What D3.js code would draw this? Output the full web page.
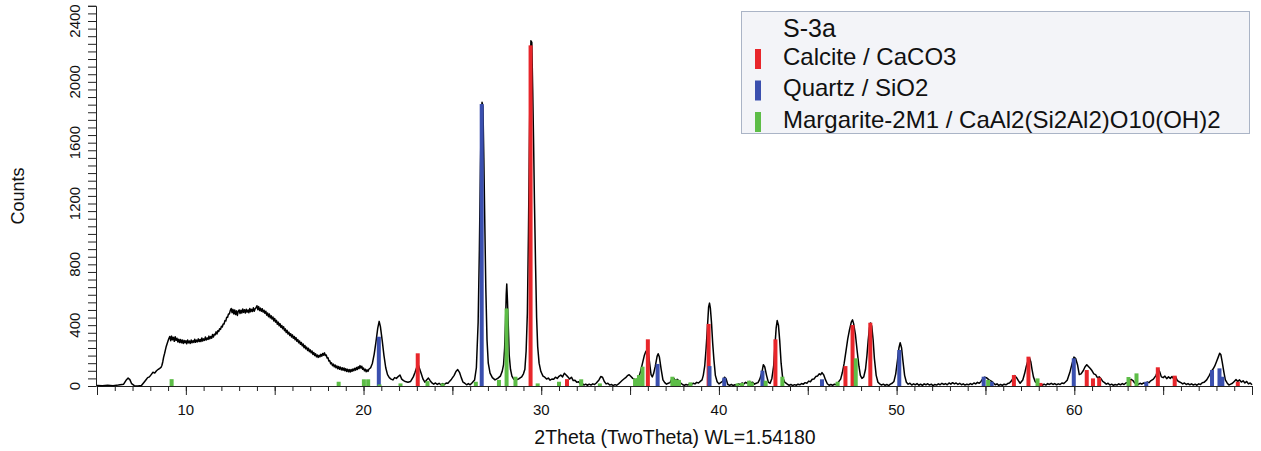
<!DOCTYPE html>
<html>
<head>
<meta charset="utf-8">
<script src="https://cdn.jsdelivr.net/npm/d3@7"></script>
<style>
  html, body { margin: 0; padding: 0; background: #fff; }
  text { font-family: "Liberation Sans", Arial, sans-serif; }
</style>
</head>
<body>
<svg id="chart"></svg>
<script>
// measured scan, [2theta, counts]
const scan = [
  [5.0,3],[5.3,2],[5.6,5],[5.9,2],[6.2,6],[6.5,12],[6.65,40],[6.75,52],[6.85,42],[6.95,15],[7.1,2],[7.3,0],[7.5,3],
  [7.65,25],[7.75,40],[7.85,55],[7.95,60],[8.05,75],[8.15,90],[8.25,85],[8.35,100],[8.45,110],[8.55,118],
  [8.60,122],[8.65,135],[8.70,158],[8.75,190],[8.80,212],[8.85,238],[8.90,262],[8.95,280],[9.00,298],[9.05,314],
  [9.10,326],[9.15,298],[9.20,328],[9.25,304],[9.30,320],[9.35,294],[9.40,324],[9.45,300],[9.50,314],[9.55,290],
  [9.60,308],[9.65,286],[9.70,306],[9.75,284],[9.80,302],[9.85,280],[9.90,300],[9.95,284],[10.00,298],[10.05,278],
  [10.10,302],[10.15,284],[10.20,296],[10.25,280],[10.30,302],[10.35,284],[10.40,298],[10.45,286],[10.50,308],
  [10.55,288],[10.60,302],[10.65,290],[10.70,310],[10.75,292],[10.80,306],[10.85,292],[10.90,316],[10.95,296],
  [11.00,310],[11.05,300],[11.10,322],[11.15,302],[11.20,316],[11.25,306],[11.30,328],[11.35,310],[11.40,326],
  [11.45,314],[11.50,338],[11.55,322],[11.60,340],[11.65,336],[11.70,356],[11.75,342],[11.80,364],[11.85,358],
  [11.90,376],[11.95,372],[12.00,392],[12.05,388],[12.10,408],[12.15,408],[12.20,430],[12.25,428],[12.30,452],
  [12.35,452],[12.40,474],[12.45,474],[12.50,496],[12.55,510],[12.60,482],[12.65,504],[12.70,474],[12.75,500],
  [12.80,470],[12.85,494],[12.90,464],[12.95,492],[13.00,500],[13.05,476],[13.10,498],[13.15,480],[13.20,506],
  [13.25,484],[13.30,502],[13.35,480],[13.40,504],[13.45,486],[13.50,500],[13.55,482],[13.60,510],[13.65,488],
  [13.70,504],[13.75,490],[13.80,514],[13.85,492],[13.90,508],[13.95,514],[14.00,528],[14.05,502],[14.10,522],
  [14.15,496],[14.20,512],[14.25,492],[14.30,508],[14.35,486],[14.40,498],[14.45,478],[14.50,492],[14.55,466],
  [14.60,480],[14.65,456],[14.70,474],[14.75,448],[14.80,462],[14.85,440],[14.90,454],[14.95,428],[15.00,444],
  [15.05,420],[15.10,432],[15.15,406],[15.20,420],[15.25,396],[15.30,410],[15.35,386],[15.40,398],[15.45,376],
  [15.50,390],[15.55,364],[15.60,376],[15.65,352],[15.70,366],[15.75,342],[15.80,354],[15.85,332],[15.90,344],
  [15.95,322],[16.00,336],[16.05,314],[16.10,326],[16.15,304],[16.20,318],[16.25,294],[16.30,306],[16.35,284],
  [16.40,296],[16.45,274],[16.50,286],[16.55,264],[16.60,276],[16.65,252],[16.70,266],[16.75,244],[16.80,256],
  [16.85,234],[16.90,248],[16.95,226],[17.00,238],[17.05,218],[17.10,230],[17.15,208],[17.20,220],[17.25,200],
  [17.30,212],[17.35,192],[17.40,204],[17.45,188],[17.50,202],[17.55,192],[17.60,208],[17.65,196],[17.70,214],
  [17.75,202],[17.80,218],[17.85,200],[17.90,204],[17.95,184],[18.00,186],[18.05,164],[18.10,166],[18.15,146],
  [18.20,152],[18.25,134],[18.30,144],[18.35,126],[18.40,138],[18.45,120],[18.50,132],[18.55,114],[18.60,128],
  [18.65,110],[18.70,124],[18.75,106],[18.80,120],[18.85,104],[18.90,118],[18.95,100],[19.00,114],[19.05,96],
  [19.10,110],[19.15,94],[19.20,108],[19.25,92],[19.30,108],[19.35,96],[19.40,112],[19.45,100],[19.50,116],
  [19.55,104],[19.60,122],[19.65,108],[19.70,126],[19.75,114],[19.80,134],[19.85,118],[19.90,130],[19.95,110],
  [20.00,118],[20.05,100],[20.10,110],[20.15,94],[20.20,106],[20.25,96],[20.30,110],
  [20.4,120],[20.5,150],[20.6,210],[20.7,290],[20.8,380],[20.88,425],[20.95,390],[21.05,300],[21.15,200],
  [21.25,120],[21.35,75],[21.45,55],[21.55,45],[21.65,40],[21.75,55],[21.85,50],[21.95,62],[22.05,72],[22.15,45],[22.25,35],
  [22.35,30],[22.5,25],[22.65,30],[22.8,60],[22.9,90],[23.0,125],[23.08,140],[23.15,115],[23.25,80],[23.35,45],[23.45,25],
  [23.55,40],[23.65,52],[23.75,35],[23.85,20],[23.95,12],[24.05,20],[24.15,10],[24.25,18],[24.35,8],[24.45,16],[24.55,10],
  [24.65,20],[24.75,18],[24.85,32],[24.95,45],[25.1,70],[25.2,95],
  [25.3,108],[25.4,90],[25.5,55],[25.6,25],[25.7,18],[25.8,8],[25.9,16],[26.0,8],[26.1,20],[26.25,40],[26.35,120],[26.45,420],[26.52,900],
  [26.58,1450],[26.63,1800],[26.67,1865],[26.72,1840],[26.77,1500],[26.82,1100],[26.88,650],[26.95,300],[27.02,150],[27.12,85],
  [27.25,55],[27.4,40],[27.55,50],[27.7,65],[27.8,95],[27.88,140],[27.94,250],[27.99,420],[28.03,600],[28.06,670],[28.1,560],
  [28.15,380],[28.2,200],[28.27,110],[28.35,65],[28.45,45],[28.6,40],[28.75,48],[28.9,60],[29.0,80],[29.08,110],[29.15,230],
  [29.22,480],[29.28,1000],[29.33,1550],[29.38,2050],[29.42,2270],[29.47,2260],[29.52,1950],[29.57,1600],[29.62,1200],
  [29.68,800],[29.74,450],[29.8,260],[29.88,150],[29.98,95],[30.1,65],[30.2,58],[30.3,46],[30.4,52],[30.5,38],[30.6,46],
  [30.7,44],[30.8,58],[30.9,50],[31.0,64],[31.1,72],[31.2,60],[31.3,84],[31.4,72],[31.5,60],[31.6,46],[31.7,58],[31.8,36],
  [31.9,38],[32.0,24],[32.1,28],[32.2,14],[32.3,18],[32.4,6],[32.5,12],[32.6,5],[32.7,12],[32.8,6],[32.9,14],[33.0,10],
  [33.1,20],[33.25,40],[33.35,62],[33.45,58],[33.55,30],[33.65,14],[33.75,18],[33.85,6],[33.95,10],[34.05,3],[34.15,9],
  [34.25,5],[34.35,14],[34.45,25],[34.55,36],[34.65,46],[34.75,55],[34.85,68],[34.95,74],[35.05,62],[35.15,50],[35.25,44],
  [35.35,40],[35.5,60],[35.6,100],[35.7,150],
  [35.8,200],[35.88,225],[35.95,235],[36.02,225],[36.1,150],[36.18,75],[36.25,60],[36.32,80],[36.42,130],[36.52,195],
  [36.58,212],[36.65,190],[36.75,110],[36.85,40],[36.95,22],[37.05,12],[37.15,18],[37.25,22],[37.35,45],[37.45,52],[37.55,36],
  [37.65,44],[37.75,34],[37.85,20],[37.95,10],[38.05,4],[38.15,10],[38.25,6],[38.35,14],[38.45,10],[38.55,18],[38.65,14],
  [38.75,24],[38.85,20],[38.95,30],[39.05,40],[39.12,70],[39.2,130],[39.28,250],[39.35,380],
  [39.42,520],[39.47,545],[39.52,510],[39.58,420],[39.65,280],[39.72,170],[39.8,70],[39.9,28],[40.0,14],[40.1,22],[40.2,30],
  [40.32,58],[40.4,48],[40.5,10],[40.6,4],[40.7,10],[40.8,3],[40.9,8],[41.0,4],[41.1,14],[41.2,10],[41.3,20],[41.4,14],
  [41.5,24],[41.6,18],[41.7,30],[41.8,22],[41.9,24],[42.0,12],[42.1,18],[42.2,22],[42.3,45],
  [42.42,90],[42.5,140],[42.58,125],[42.68,70],[42.78,25],[42.88,18],[42.98,50],[43.08,130],[43.15,260],[43.22,380],[43.28,430],
  [43.35,400],[43.42,300],[43.5,150],[43.58,60],[43.7,25],[43.85,12],[43.95,4],[44.05,10],[44.15,3],[44.25,9],[44.35,5],
  [44.45,12],[44.55,8],[44.65,16],[44.75,12],[44.85,22],[44.95,18],[45.05,32],[45.15,28],[45.25,44],[45.35,46],[45.45,62],
  [45.55,66],[45.65,80],[45.72,74],[45.8,88],[45.9,72],[46.0,40],[46.1,15],[46.2,5],[46.3,10],[46.4,4],[46.5,12],[46.6,10],
  [46.7,22],[46.85,45],
  [46.95,90],[47.05,150],[47.15,230],[47.25,310],[47.35,370],[47.45,420],[47.52,435],[47.58,410],[47.68,340],[47.78,230],
  [47.88,130],[47.96,70],[48.05,50],[48.15,60],[48.25,110],[48.33,200],[48.4,300],[48.47,380],[48.53,415],[48.6,395],
  [48.68,300],[48.75,180],[48.85,70],[48.95,25],[49.05,14],[49.15,6],[49.25,12],[49.35,4],[49.45,10],[49.55,3],[49.65,12],
  [49.75,18],[49.85,30],[49.95,80],[50.05,170],
  [50.13,250],[50.2,285],[50.28,250],[50.36,160],[50.45,70],[50.55,25],[50.65,12],[50.75,18],[50.85,6],[50.95,14],[51.05,8],
  [51.15,16],[51.25,5],[51.35,12],[51.45,4],[51.55,14],[51.65,8],[51.75,15],[51.85,6],[51.95,12],[52.05,3],[52.15,10],
  [52.25,6],[52.35,14],[52.45,8],[52.55,18],[52.65,10],[52.75,16],[52.85,8],[52.95,20],[53.05,12],[53.15,22],[53.25,14],
  [53.35,20],[53.45,10],[53.55,18],[53.65,8],[53.75,14],[53.85,6],[53.95,12],[54.05,8],[54.15,16],[54.25,10],[54.35,20],
  [54.45,14],[54.55,24],[54.65,18],[54.75,30],[54.85,48],[54.95,58],
  [55.05,55],[55.2,40],[55.35,30],[55.45,20],[55.55,8],[55.65,14],[55.75,4],[55.85,10],[55.95,4],[56.05,12],[56.15,8],
  [56.25,16],[56.35,20],[56.45,32],[56.55,50],[56.65,68],[56.75,55],[56.85,35],
  [56.95,18],[57.1,40],[57.2,80],[57.3,130],[57.4,170],[57.48,185],[57.55,160],[57.62,110],[57.7,60],[57.8,28],[57.9,18],
  [58.0,8],[58.1,14],[58.2,5],[58.3,12],[58.4,6],[58.5,16],[58.6,10],[58.7,18],[58.8,10],[58.9,16],[59.0,8],[59.1,14],
  [59.2,10],[59.3,20],[59.4,16],[59.5,26],[59.6,38],[59.75,90],[59.88,150],[59.98,190],[60.08,180],
  [60.18,140],[60.28,75],[60.38,80],[60.5,100],[60.6,125],[60.7,140],[60.78,130],[60.9,115],[61.0,100],[61.1,80],[61.2,75],
  [61.3,55],[61.4,60],[61.5,48],[61.6,30],[61.7,22],[61.8,12],[61.9,18],[62.0,6],[62.1,12],[62.2,4],[62.3,10],[62.4,6],
  [62.5,14],[62.6,8],[62.7,16],[62.8,10],[62.9,20],[63.0,24],[63.1,36],[63.2,44],[63.3,36],[63.4,20],[63.5,24],[63.6,10],
  [63.7,18],[63.8,12],[63.9,20],[64.0,16],[64.1,26],[64.2,22],[64.3,34],[64.45,45],[64.6,70],[64.72,110],[64.8,95],[64.9,60],
  [65.0,55],[65.1,65],[65.2,48],[65.3,60],[65.4,50],[65.5,62],[65.6,46],[65.7,60],[65.8,35],[65.9,28],[66.0,22],[66.1,14],
  [66.2,20],[66.3,10],[66.4,16],[66.5,8],[66.6,14],[66.7,6],[66.8,12],[66.9,5],[67.0,14],[67.1,10],[67.2,22],[67.3,24],
  [67.45,40],[67.6,70],[67.7,95],[67.8,110],[67.9,130],[68.0,160],[68.1,190],[68.18,215],[68.25,205],
  [68.32,160],[68.42,90],[68.5,40],[68.6,20],[68.7,6],[68.8,12],[68.9,18],[69.0,30],[69.1,42],[69.2,30],[69.3,40],
  [69.4,26],[69.5,34],[69.6,20],[69.7,30],[69.8,14],[69.9,20],[70.0,8]
];

// reference patterns, [2theta, relative height in counts]
const calcite = [
  [23.05,215],[29.4,2240],[31.45,45],[36.0,307],[39.42,408],[43.18,307],[47.12,131],[47.52,401],[48.52,416],
  [56.6,72],[57.42,193],[58.1,20],[60.7,105],[61.05,50],[61.4,55],[63.1,40],[64.7,123],[65.65,68],[69.2,28]
];
const quartz = [
  [20.86,324],[26.65,1854],[36.55,145],[39.47,131],[40.3,55],[42.45,101],[45.8,44],[50.15,237],[54.9,61],
  [55.35,28],[59.97,182],[64.05,28],[67.75,105],[68.17,116],[68.33,61]
];
const margarite = [
  [9.2,45],[18.6,28],[20.02,44],[20.26,44],[20.9,10],[22.08,17],[23.6,32],[24.45,17],[26.32,28],[27.62,40],[28.05,510],
  [28.55,61],[29.8,17],[31.0,28],[32.25,44],[33.3,17],[35.28,50],[35.5,72],[35.7,127],[37.38,61],[37.55,44],[37.75,40],
  [38.4,24],[41.05,17],[41.3,20],[41.7,35],[41.85,24],[42.63,35],[43.57,61],[46.68,28],[47.7,182],[55.15,40],
  [57.93,50],[63.05,59],[63.5,83]
];

const legendTitle = "S-3a";
const phases = [
  {name: "Calcite / CaCO3", color: "#e8262b", peaks: calcite},
  {name: "Quartz / SiO2", color: "#3a4fae", peaks: quartz},
  {name: "Margarite-2M1 / CaAl2(Si2Al2)O10(OH)2", color: "#5dbd47", peaks: margarite}
];

const yLabels = [0, 400, 800, 1200, 1600, 2000, 2400];
const xLabels = [10, 20, 30, 40, 50, 60];

const width = 1261, height = 451;

const svg = d3.select("#chart")
    .attr("width", width)
    .attr("height", height)
    .style("display", "block");

svg.append("rect").attr("width", width).attr("height", height).attr("fill", "#fff");

const x = d3.scaleLinear().domain([5, 70]).range([97, 1252]);
const y = d3.scaleLinear().domain([0, 2500]).range([386, 5.8]);

// y axis
svg.append("g")
    .attr("transform", "translate(96,0)")
    .call(d3.axisLeft(y).tickValues(d3.range(0, 2501, 50)).tickSize(8).tickFormat(""))
    .call(g => g.selectAll("path,line").attr("stroke", "#222"));

svg.append("g")
    .selectAll("text")
    .data(yLabels)
    .join("text")
    .attr("transform", d => `translate(80,${y(d)}) rotate(-90)`)
    .attr("text-anchor", "middle")
    .attr("font-size", 15)
    .attr("fill", "#111")
    .text(d => d);

svg.append("text")
    .attr("transform", "translate(24,196) rotate(-90)")
    .attr("text-anchor", "middle")
    .attr("font-size", 18)
    .attr("fill", "#111")
    .text("Counts");

// x axis
svg.append("g")
    .attr("transform", "translate(0,386)")
    .call(d3.axisBottom(x).tickValues(d3.range(5, 71, 1)).tickSize(5).tickFormat(""))
    .call(g => g.select(".domain").remove())
    .call(g => g.selectAll("line").attr("stroke", "#222"));

svg.append("g")
    .attr("transform", "translate(0,386)")
    .call(d3.axisBottom(x).tickValues(d3.range(5, 71, 5)).tickSize(9).tickSizeOuter(0).tickFormat(""))
    .call(g => g.selectAll("path,line").attr("stroke", "#222"));

svg.append("g")
    .selectAll("text")
    .data(xLabels)
    .join("text")
    .attr("x", d => x(d))
    .attr("y", 415)
    .attr("text-anchor", "middle")
    .attr("font-size", 15)
    .attr("fill", "#111")
    .text(d => d);

svg.append("text")
    .attr("x", 675)
    .attr("y", 444)
    .attr("text-anchor", "middle")
    .attr("font-size", 19.5)
    .attr("fill", "#111")
    .text("2Theta (TwoTheta) WL=1.54180");

// scan line
const line = d3.line()
    .x(d => x(d[0]))
    .y(d => y(d[1]));

svg.append("path")
    .datum(scan)
    .attr("fill", "none")
    .attr("stroke", "#000")
    .attr("stroke-width", 1.5)
    .attr("stroke-linejoin", "round")
    .attr("d", line);

// reference sticks
for (const p of phases) {
  svg.append("g")
      .selectAll("rect")
      .data(p.peaks)
      .join("rect")
      .attr("x", d => x(d[0]) - 2)
      .attr("y", d => y(d[1]))
      .attr("width", 4)
      .attr("height", d => y(0) - y(d[1]))
      .attr("fill", p.color);
}

// legend
const legend = svg.append("g");

legend.append("rect")
    .attr("x", 741.5)
    .attr("y", 11.5)
    .attr("width", 508)
    .attr("height", 122)
    .attr("fill", "#f3f4f8")
    .attr("stroke", "#aab4c6");

legend.append("text")
    .attr("x", 783)
    .attr("y", 37)
    .attr("font-size", 25)
    .attr("fill", "#111")
    .text(legendTitle);

phases.forEach((p, i) => {
  legend.append("rect")
      .attr("x", 755)
      .attr("y", 49 + i * 31.5)
      .attr("width", 6)
      .attr("height", 20)
      .attr("fill", p.color);
  legend.append("text")
      .attr("x", 783)
      .attr("y", 64.5 + i * 31.5)
      .attr("font-size", 24)
      .attr("fill", "#111")
      .text(p.name);
});
</script>
</body>
</html>
